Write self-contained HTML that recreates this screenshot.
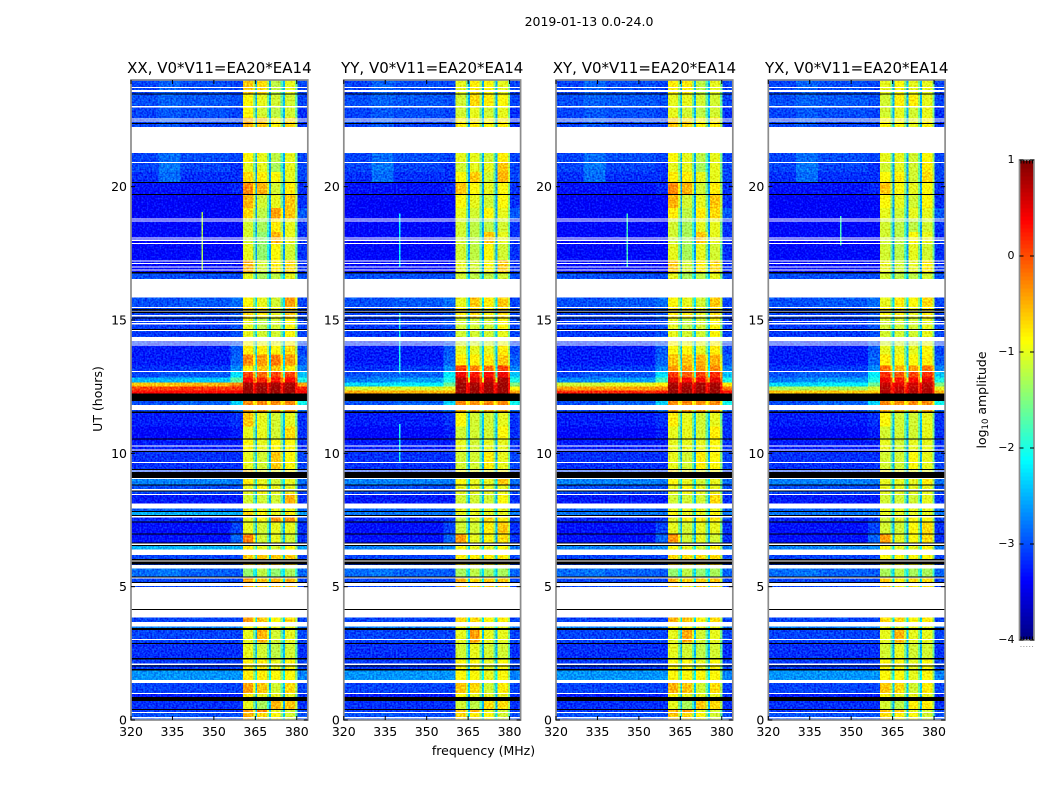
<!DOCTYPE html>
<html lang="en">
<head>
<meta charset="utf-8">
<title>2019-01-13 0.0-24.0</title>
<style>
html,body{margin:0;padding:0;background:#fff;}
svg{display:block;}
text{font-family:"DejaVu Sans","Liberation Sans",sans-serif;fill:#000;}
</style>
</head>
<body>
<svg id="chart" xmlns="http://www.w3.org/2000/svg" width="1050" height="800" viewBox="0 0 1050 800">
  <defs>
    <filter id="grain-0" filterUnits="userSpaceOnUse" x="131" y="80" width="177" height="640" color-interpolation-filters="sRGB">
      <feTurbulence type="fractalNoise" baseFrequency="0.55" numOctaves="1" seed="3" result="n"/>
      <feColorMatrix in="n" type="matrix" values="0.3 0 0 0 0.35  1 0 0 0 0  0.6 0 0 0 0.2  0 0 0 0 1" result="m"/>
      <feComposite in="SourceGraphic" in2="m" operator="arithmetic" k1="0" k2="1" k3="0.8" k4="-0.4" result="a"/>
      <feComposite in="a" in2="SourceAlpha" operator="in"/>
    </filter>
    <filter id="grain-1" filterUnits="userSpaceOnUse" x="343" y="80" width="178" height="640" color-interpolation-filters="sRGB">
      <feTurbulence type="fractalNoise" baseFrequency="0.55" numOctaves="1" seed="11" result="n"/>
      <feColorMatrix in="n" type="matrix" values="0.3 0 0 0 0.35  1 0 0 0 0  0.6 0 0 0 0.2  0 0 0 0 1" result="m"/>
      <feComposite in="SourceGraphic" in2="m" operator="arithmetic" k1="0" k2="1" k3="0.8" k4="-0.4" result="a"/>
      <feComposite in="a" in2="SourceAlpha" operator="in"/>
    </filter>
    <filter id="grain-2" filterUnits="userSpaceOnUse" x="555" y="80" width="179" height="640" color-interpolation-filters="sRGB">
      <feTurbulence type="fractalNoise" baseFrequency="0.55" numOctaves="1" seed="23" result="n"/>
      <feColorMatrix in="n" type="matrix" values="0.3 0 0 0 0.35  1 0 0 0 0  0.6 0 0 0 0.2  0 0 0 0 1" result="m"/>
      <feComposite in="SourceGraphic" in2="m" operator="arithmetic" k1="0" k2="1" k3="0.8" k4="-0.4" result="a"/>
      <feComposite in="a" in2="SourceAlpha" operator="in"/>
    </filter>
    <filter id="grain-3" filterUnits="userSpaceOnUse" x="767" y="80" width="179" height="640" color-interpolation-filters="sRGB">
      <feTurbulence type="fractalNoise" baseFrequency="0.55" numOctaves="1" seed="37" result="n"/>
      <feColorMatrix in="n" type="matrix" values="0.3 0 0 0 0.35  1 0 0 0 0  0.6 0 0 0 0.2  0 0 0 0 1" result="m"/>
      <feComposite in="SourceGraphic" in2="m" operator="arithmetic" k1="0" k2="1" k3="0.8" k4="-0.4" result="a"/>
      <feComposite in="a" in2="SourceAlpha" operator="in"/>
    </filter>
  </defs>
  <rect x="0" y="0" width="1050" height="800" fill="#fff"/>
  <text x="589" y="26" font-size="12.5" text-anchor="middle">2019-01-13 0.0-24.0</text>
  <text x="102" y="399" font-size="12.5" text-anchor="middle" transform="rotate(-90 102 399)">UT (hours)</text>
  <text x="483.500" y="755" font-size="12.5" text-anchor="middle">frequency (MHz)</text>
  <text x="986" y="400" font-size="12.5" text-anchor="middle" transform="rotate(-90 986 400)">log<tspan font-size="8.500" dy="2">10</tspan><tspan dy="-2"> amplitude</tspan></text>
  <g id="panels"></g>
  <g id="colorbar"></g>
</svg>
<script>
// ---- Axis tick values ----
const freqTicks = [320, 335, 350, 365, 380];
const utTicks = [0, 5, 10, 15, 20];
const colorbarTicks = [1, 0, -1, -2, -3, -4];

// ---- Panel titles ----
const panelTitles = ["XX, V0*V11=EA20*EA14", "YY, V0*V11=EA20*EA14", "XY, V0*V11=EA20*EA14", "YX, V0*V11=EA20*EA14"];

// ---- Heatmap bins: frequency edges (MHz) and UT edges (hours) ----
const freqEdges = [320, 330, 338, 356, 360.5, 364.2, 365, 365.7, 369.2, 370, 370.7, 374.2, 375, 375.7, 379.4, 380.2, 384];
const timeEdges = [24, 23.5, 23.03, 22.6, 22.23, 21.27, 20.93, 20.55, 20.18, 19.71, 19.2, 18.8, 18.3, 17.85, 17.25, 16.8, 16.54, 15.85, 15.5, 15.05, 14.63, 14.37, 14.05, 13.7, 13.3, 13.05, 12.85, 12.65, 12.5, 12.35, 12.25, 11.96, 11.81, 11.52, 11, 10.5, 10.05, 9.42, 9.08, 8.84, 8.5, 8.11, 7.84, 7.62, 7.43, 7, 6.63, 6.39, 6.19, 5.82, 5.36, 4.98, 3.84, 3.68, 3.38, 2.9, 2.33, 1.85, 1.5, 1.38, 1.02, 0.72, 0.41, 0.26, 0];

// ---- Log10 amplitude outside the four sub-bands, one row per UT bin:
//      320-330, 330-338, 338-356, 356-360.5, sub-band notches, 380.2-384 MHz ----
const sharedLow = [
[-3.05,-2.9,-3,-3.05,-2.5,-3.05],[-3,-2.9,-2.95,-3,-2.5,-3.05],[-3.05,-2.95,-3,-3.05,-2.5,-3.15],[-3.05,-2.95,-3.05,-3.05,-2.5,-3.15],
[-3.05,-2.9,-3.05,-3.05,-2.5,-3.15],[-3.05,-2.85,-3,-3.05,-2.5,-3.05],[-3.05,-2.8,-3.05,-3.15,-2.6,-3.05],[-3.15,-2.85,-3.15,-3.15,-2.6,-3.05],
[-3.3,-3.3,-3.3,-3.2,-2.6,-3.15],[-3.4,-3.4,-3.4,-3.35,-2.6,-3.15],[-3.4,-3.4,-3.4,-3.35,-2.6,-2.95],[-3.35,-3.35,-3.35,-3.35,-2.6,-3.15],
[-3.35,-3.35,-3.35,-3.35,-2.6,-3.15],[-3.35,-3.35,-3.35,-3.35,-2.6,-3.15],[-3.35,-3.35,-3.35,-3.35,-2.6,-3.15],[-3,-3,-3,-3,-2.4,-3],
[-2.95,-2.95,-2.95,-2.95,-2.4,-2.95],[-3,-3,-2.95,-2.85,-2.3,-3.05],[-3.05,-3.05,-3.05,-2.95,-2.4,-3.05],[-3.1,-3.1,-3.1,-3,-2.4,-3.05],
[-3.1,-3.1,-3.1,-3,-2.4,-3.05],[-3.15,-3.15,-3.15,-3,-2.4,-3.05],[-3.25,-3.25,-3.25,-2.95,-2.4,-3.05],[-3.25,-3.25,-3.25,-2.9,-2.4,-2.95],
[-3.15,-3.15,-3.1,-2.7,-2.2,-2.75],[-3.05,-2.95,-2.95,-2.3,-1.8,-2.45],[-2.95,-2.85,-2.8,-2.05,-1,-2.05],[-2.75,-2.75,-2.65,-1.85,0.4,-1.55],
[-2.75,-2.75,-2.65,-1.85,0.5,-1.05],[-2.75,-2.75,-2.65,-1.85,0.5,-0.85],[-2.75,-2.75,-2.65,-1.85,0.5,-0.85],[-3,-3,-2.9,-2.35,-0.7,-2.05],
[-3.05,-3.05,-3.05,-2.85,-1.5,-2.85],[-3.25,-3.25,-3.25,-3.15,-2.4,-3.15],[-3.35,-3.35,-3.35,-3.25,-2.5,-3.15],[-3.25,-3.25,-3.25,-3.25,-2.5,-3.15],
[-3.15,-3.15,-3.15,-3.15,-2.5,-3.05],[-3.05,-3.05,-3.05,-3.05,-2.4,-3.05],[-2.75,-2.75,-2.75,-2.8,-2.2,-2.85],[-3,-3,-3,-3,-2.4,-3],
[-3.25,-3.25,-3.25,-3.25,-2.5,-3.15],[-2.9,-2.9,-2.9,-2.9,-2.3,-2.9],[-2.75,-2.75,-2.75,-2.75,-2.1,-2.8],[-3.2,-3.2,-3.2,-3.1,-2.5,-3.05],
[-3.3,-3.3,-3.3,-3.05,-2.5,-3.15],[-3.3,-3.3,-3.3,-2.9,-2.5,-3.15],[-2.75,-2.75,-2.75,-2.7,-2.2,-2.8],[-3.05,-3.05,-3.05,-3.05,-2.4,-3.05],
[-3.05,-3.05,-3.05,-3.05,-2.4,-3.05],[-2.85,-2.8,-2.9,-2.95,-2.3,-2.9],[-3.05,-3.05,-3.05,-3.05,-2.3,-3.05],[-3.05,-3.05,-3.05,-3.05,-2.3,-3.05],
[-3.05,-3.05,-3.05,-3.05,-2.3,-3.05],[-2.75,-2.75,-2.75,-2.75,-2.2,-2.8],[-3.05,-3.05,-3.05,-3.05,-2.4,-3.05],[-3.15,-3.15,-3.15,-3.15,-2.5,-3.15],
[-3.1,-3.1,-3.1,-3.1,-2.4,-3.05],[-2.65,-2.65,-2.65,-2.65,-2.1,-2.75],[-2.95,-2.95,-2.95,-2.95,-2.3,-2.95],[-3.05,-3.05,-3.05,-3.05,-2.4,-3.05],
[-3.25,-3.25,-3.25,-3.25,-2.5,-3.15],[-3.15,-3.15,-3.15,-3.15,-2.5,-3.15],[-3.1,-3.1,-3.1,-3.1,-2.4,-3.05],[-3,-2.95,-3,-3,-2.3,-3]
];

// ---- Per-panel replacements of sharedLow where the polarizations differ; key is the row number ----
const xxLowOverride = {26:[-2.5,-2.5,-2.4,-1.7,-0.5,-2],27:[-0.6,-0.6,-0.5,-0.3,0.6,-0.4],28:[0.05,0.05,0.1,0.15,0.7,0.2],29:[0.35,0.35,0.35,0.4,0.7,0.4],42:[-2.5,-2.5,-2.5,-2.5,-2,-2.6],46:[-2.5,-2.5,-2.5,-2.5,-2,-2.6]};
const yyLowOverride = {25:[-3,-2.9,-2.9,-2.2,-1.8,-2.4],26:[-2.8,-2.7,-2.6,-2,-1,-2],27:[-2.3,-2.3,-2.2,-1.6,0.4,-1.5],28:[-1.1,-1.1,-1.1,-1,0.5,-0.9],29:[-0.5,-0.5,-0.5,-0.5,0.5,-0.4],42:[-2.8,-2.8,-2.8,-2.8,-2.2,-2.8]};
const xyLowOverride = {26:[-2.7,-2.7,-2.6,-1.8,-0.5,-2],27:[-1.1,-1.1,-1,-0.8,0.5,-0.8],28:[-0.4,-0.4,-0.4,-0.3,0.6,-0.2],29:[0.2,0.2,0.2,0.25,0.6,0.3],42:[-2.8,-2.8,-2.8,-2.8,-2.2,-2.8]};
const yxLowOverride = {25:[-3,-2.9,-2.9,-2.2,-1.8,-2.4],26:[-2.8,-2.7,-2.6,-2,-1,-2],27:[-2.3,-2.3,-2.2,-1.6,0.3,-1.5],28:[-1.3,-1.3,-1.3,-1.1,0.4,-1],29:[-0.6,-0.6,-0.6,-0.6,0.4,-0.5],42:[-2.8,-2.8,-2.8,-2.8,-2.2,-2.8]};

// ---- Log10 amplitude in the four sub-bands (360.5-365, 365.7-370, 370.7-375, 375.7-380.2 MHz), one row per UT bin ----
const xxBands = [
[-.6,-.7,-1.2,-1],[-.9,-1,-1.1,-1.1],[-.9,-1.1,-1.2,-1.1],[-.5,-.6,-.9,-.7],[-.9,-1,-1.1,-1],[-.9,-1,-1.2,-1],[-1,-1,-1.3,-1],[-.7,-.8,-.9,-1],
[-.3,-.5,-1.1,-.8],[-.5,-1.1,-1,-.6],[-.7,-1.2,-.4,-.6],[-1.1,-1.3,-.8,-1],[-1.1,-1.4,-.5,-1],[-1,-1.4,-.9,-1.1],[-.5,-1.1,-.8,-.7],[-1,-1.3,-1.2,-1],
[-1,-1.3,-1.2,-1],[-.9,-1,-1.1,-.4],[-.7,-.8,-1,-.6],[-1,-1.2,-1.1,-.9],[-1,-1.1,-1.1,-.9],[-.9,-1,-1,-.9],[-.8,-.8,-.9,-.7],[-.3,-.4,-.2,-.4],
[-.8,-.6,-.6,-.8],[.05,-.15,.05,.05],[.4,.2,.3,.4],[.8,.75,.8,.8],[.85,.85,.85,.85],[.85,.85,.85,.85],[.85,.85,.85,.85],[-.3,-.3,-.3,-.3],
[-.4,-.4,-.4,-.4],[-.6,-1,-1.1,-1],[-1,-1,-1.1,-.7],[-.9,-1,-.9,-.9],[-1,-1.1,-.6,-.9],[-.6,-1,-1,-.9],[-.8,-1,-1.1,-1],[-1,-.9,-1,-1],
[-1.1,-1.1,-1.1,-.5],[-1,-1,-1,-1],[-.7,-.9,-1,-.8],[-1,-.9,-.3,-.35],[-1,-1.1,-1,-1],[-.25,-1.1,-1,-1.1],[-.8,-1,-1.1,-.9],[-.8,-1,-1.1,-.9],
[-.6,-.6,-.6,-.6],[-1.4,-1.2,-1.4,-1.3],[-.4,-.6,-.5,-.5],[-.4,-.6,-.5,-.5],[-.4,-.6,-.9,-.7],[-.9,-.9,-1,-1],[-1,-.5,-1.1,-1],[-1,-1.1,-1.2,-1.1],
[-.8,-.8,-1,-.9],[-.8,-.8,-.9,-.9],[-.8,-.8,-.9,-.9],[-.4,-.6,-1.1,-.7],[-.8,-1,-1,-1],[-1,-1.3,-.5,-.6],[-.4,-.3,-1,-1.1],[-.5,-.7,-.9,-1.1]
];
const yyBands = [
[-1,-.8,-.9,-1],[-1.1,-.7,-.8,-.9],[-1.1,-1,-1.1,-1],[-.8,-.8,-.9,-.8],[-1,-1,-1.1,-1],[-1,-1,-1.1,-.8],[-1.1,-1,-1,-.6],[-.9,-.6,-1.1,-.5],
[-.6,-.9,-1,-.9],[-.9,-1,-1.1,-.9],[-1,-1.1,-.9,-1],[-1.1,-1.2,-1.2,-1.1],[-1.1,-1.2,-.6,-1],[-1.1,-1.2,-.9,-1.1],[-1,-1.1,-.9,-.6],[-1.1,-1.2,-1.2,-1.1],
[-1.1,-1.2,-1.2,-1.1],[-1,-.6,-.8,-.6],[-.8,-.7,-.9,-.7],[-1.1,-1.1,-1.1,-.9],[-1.1,-1.1,-1.1,-1],[-1.1,-1.1,-1.1,-1],[-1,-1,-1,-.8],[-.8,-.8,-.8,-.6],
[.05,-.25,-.15,.05],[.45,.25,.35,.45],[.75,.55,.65,.8],[.85,.8,.8,.85],[.85,.85,.85,.85],[.85,.85,.85,.85],[.85,.85,.85,.85],[-.3,-.3,-.3,-.3],
[-.5,-.5,-.5,-.5],[-.9,-1.1,-1.1,-1],[-1.1,-1.1,-1.1,-.9],[-1,-1.1,-1,-1],[-1.1,-1.1,-.8,-1],[-.9,-1,-1,-.9],[-.9,-1,-1,-.6],[-1,-1,-1,-1],
[-1.1,-1.1,-1.1,-.9],[-1,-1,-1,-1],[-1,-1,-1,-1],[-1.1,-1,-.7,-.8],[-1.1,-1.1,-.8,-.6],[-.4,-1,-.9,-.7],[-.9,-1,-1,-.9],[-.9,-1,-1,-.9],
[-.8,-.8,-.8,-.8],[-1.3,-1.2,-1.3,-1.3],[-.5,-.7,-.6,-.6],[-.5,-.7,-.6,-.6],[-.7,-.7,-.9,-.8],[-1,-1,-1,-1],[-1,-.4,-1,-1],[-1.1,-1,-1.1,-1.1],
[-.9,-.9,-1,-.9],[-.9,-.9,-1,-.9],[-.9,-.9,-1,-.9],[-.6,-.7,-1.1,-.8],[-.9,-1,-1,-1],[-1.1,-1.2,-.7,-.7],[-.6,-.5,-1,-1.1],[-.7,-.8,-.9,-1.1]
];
const xyBands = [
[-.8,-.8,-1.2,-1],[-1,-1,-1.1,-1.1],[-1,-1.1,-1.2,-1.1],[-.6,-.7,-.9,-.8],[-1,-1,-1.1,-1],[-.9,-1,-1.2,-1],[-1,-1,-1.3,-1],[-.8,-.8,-1,-1],
[-.3,-.5,-1.1,-.8],[-.5,-1.1,-1,-.6],[-.8,-1.2,-.8,-.7],[-1.1,-1.3,-1,-1],[-1.1,-1.3,-.6,-1],[-1,-1.3,-1,-1.1],[-.6,-1.1,-.8,-.7],[-1,-1.3,-1.2,-1],
[-1,-1.3,-1.2,-1],[-.9,-1,-1.1,-.6],[-.8,-.8,-1,-.7],[-1,-1.2,-1.1,-.9],[-1,-1.1,-1.1,-.9],[-.9,-1,-1,-.9],[-.9,-.9,-1,-.8],[-.6,-.6,-.5,-.5],
[-.4,-.4,-.4,-.3],[.1,-.05,.05,.15],[.5,.35,.4,.5],[.8,.75,.8,.8],[.85,.85,.85,.85],[.85,.85,.85,.85],[.85,.85,.85,.85],[-.3,-.3,-.3,-.3],
[-.4,-.4,-.4,-.4],[-.8,-1,-1.1,-1],[-1,-1,-1.1,-.8],[-1,-1,-1,-.9],[-1,-1.1,-.8,-.9],[-.7,-1,-1,-.9],[-.9,-1,-1.1,-1],[-1,-.9,-1,-1],
[-1.1,-1.1,-1.1,-.7],[-1,-1,-1,-1],[-.9,-1,-1,-.9],[-1,-.9,-.8,-.8],[-1,-1.1,-1,-1],[-.35,-1.1,-1,-1.1],[-.9,-1,-1.1,-.9],[-.9,-1,-1.1,-.9],
[-.7,-.7,-.7,-.7],[-1.4,-1.2,-1.4,-1.3],[-.5,-.7,-.6,-.6],[-.5,-.7,-.6,-.6],[-.5,-.6,-.9,-.7],[-.9,-.9,-1,-1],[-1,-.45,-1.1,-1],[-1,-1.1,-1.2,-1.1],
[-.9,-.9,-1,-.9],[-.9,-.9,-.9,-.9],[-.9,-.9,-.9,-.9],[-.5,-.6,-1.1,-.7],[-.9,-1,-1,-1],[-1,-1.3,-.6,-.7],[-.5,-.4,-1,-1.1],[-.6,-.7,-.9,-1.1]
];
const yxBands = [
[-1,-.9,-1,-1],[-1.1,-.8,-.8,-1],[-1.1,-1,-1.1,-1],[-.9,-.9,-1,-.9],[-1,-1,-1.1,-1],[-1,-1,-1.1,-.9],[-1.1,-1,-1.1,-.8],[-.9,-.8,-1.1,-.7],
[-.6,-.9,-1,-.9],[-.9,-1,-1.1,-.9],[-1,-1.1,-1,-1],[-1.1,-1.2,-1.2,-1.1],[-1.1,-1.2,-.9,-1],[-1.1,-1.2,-1,-1.1],[-1,-1.1,-1,-.8],[-1.1,-1.2,-1.2,-1.1],
[-1.1,-1.2,-1.2,-1.1],[-1,-.8,-.9,-.7],[-.9,-.8,-1,-.8],[-1.1,-1.1,-1.1,-1],[-1.1,-1.1,-1.1,-1],[-1.1,-1.1,-1.1,-1],[-1,-1,-1,-.9],[-.8,-.9,-.9,-.8],
[-.2,-.5,-.4,-.2],[.15,-.05,.05,.15],[.45,.25,.35,.5],[.65,.5,.6,.7],[.75,.65,.7,.75],[.75,.7,.75,.75],[.75,.7,.75,.75],[-.3,-.3,-.3,-.3],
[-.5,-.5,-.5,-.5],[-.9,-1.1,-1.1,-1],[-1.1,-1.1,-1.1,-1],[-1,-1.1,-1,-1],[-1.1,-1.1,-.9,-1],[-.9,-1,-1,-1],[-1,-1,-1,-.8],[-1,-1,-1,-1],
[-1.1,-1.1,-1.1,-1],[-1,-1,-1,-1],[-1,-1,-1,-1],[-1.1,-1,-.9,-.9],[-1.1,-1.1,-.9,-.7],[-.4,-1,-.9,-.7],[-.9,-1,-1,-.9],[-.9,-1,-1,-.9],
[-.9,-.9,-.9,-.9],[-1.3,-1.2,-1.3,-1.3],[-.6,-.8,-.7,-.7],[-.6,-.8,-.7,-.7],[-.7,-.7,-.9,-.8],[-1,-1,-1,-1],[-1,-.5,-1,-1],[-1.1,-1,-1.1,-1.1],
[-.9,-.9,-1,-.9],[-.9,-.9,-1,-.9],[-.9,-.9,-1,-.9],[-.6,-.7,-1.1,-.8],[-.9,-1,-1,-1],[-1.1,-1.2,-.8,-.8],[-.6,-.6,-1,-1.1],[-.7,-.8,-.9,-1.1]
];

// ---- Narrow interference: panel number, MHz, UT start, UT end, log10 amplitude ----
const rfiSpans = [
[0,345.6,19.05,16.9,-1.3],
[1,340,15.3,13.0,-2],[1,340,11.1,9.7,-2],[1,340,19,17,-2.1],
[2,345.6,19,17,-1.8],
[3,346,18.9,17.8,-1.8]
];

// ---- Flagged UT spans [upper, lower] in hours: white has no data, black is zero amplitude ----
const whiteFlags = [[23.74,23.71],[23.63,23.55],[23.03,22.96],[22.56,22.53],[22.49,22.45],[22.23,21.27],[20.93,20.89],[18.81,18.76],[18.74,18.69],[18.09,18.05],[18.01,17.97],[17.89,17.85],[17.24,17.2],[17.14,17.1],[17.01,16.98],[16.89,16.85],[16.54,15.85],[15.49,15.46],[15.34,15.3],[15.19,15.14],[14.97,14.94],[14.89,14.84],[14.63,14.59],[14.37,14.2],[14.16,14.13],[14.09,14.05],[13.09,13.05],[11.81,11.63],[10.3,10.26],[10.15,10.11],[9.68,9.64],[9.36,9.31],[9.08,9.03],[8.66,8.61],[8.48,8.44],[8.11,7.94],[7.65,7.59],[6.63,6.57],[6.39,6.19],[5.99,5.94],[5.82,5.69],[5.36,5.3],[5.15,5.03],[4.98,4.16],[4.13,3.84],[3.68,3.51],[3.04,3.01],[2.11,2.07],[1.5,1.38],[1.02,0.99],[0.3,0.26],[0.12,0.06]];
const blackFlags = [[23.49,23.45],[22.38,22.35],[20.18,20.13],[19.73,19.69],[16.8,16.74],[15.41,15.38],[15.36,15.34],[15.3,15.26],[15.09,15.05],[14.66,14.63],[12.25,11.96],[11.56,11.52],[10.55,10.51],[10.09,10.05],[9.42,9.39],[9.3,9.08],[8.84,8.8],[8.6,8.56],[7.84,7.8],[7.69,7.65],[7.45,7.43],[7,6.98],[6.65,6.63],[6.57,6.55],[6.03,5.99],[5.94,5.84],[5.39,5.36],[5.18,5.15],[4.16,4.13],[3.45,3.38],[2.88,2.85],[2.33,2.26],[2.05,2],[1.92,1.85],[0.86,0.72],[0.41,0.38]];

// ---- Layout ----
const panelLeft = [131, 343.8, 556, 768.3];
const panelWidth = 176.8;
const plotTop = 80;
const plotBottom = 720;
const freqMin = 320, freqMax = 384, utMin = 0, utMax = 24;
const cbarLeft = 1019.5, cbarWidth = 14.5, cbarTop = 160, cbarBottom = 640;
const ampMin = -4, ampMax = 1;
const colorbarSteps = 120;
const shoulderDrop = 0.55;
const minorTickCount = 5;

const SVG_NS = "http://www.w3.org/2000/svg";
function shape(tag, attrs, parent) {
  const el = document.createElementNS(SVG_NS, tag);
  for (const k in attrs) el.setAttribute(k, attrs[k]);
  parent.appendChild(el);
  return el;
}
function clip01(v) { return Math.max(0, Math.min(1, v)); }
function jet(v) {
  const t = clip01((v - ampMin) / (ampMax - ampMin));
  const r = clip01(1.5 - Math.abs(4 * t - 3));
  const g = clip01(1.5 - Math.abs(4 * t - 2));
  const b = clip01(1.5 - Math.abs(4 * t - 1));
  return "rgb(" + Math.round(r * 255) + "," + Math.round(g * 255) + "," + Math.round(b * 255) + ")";
}
function freqToX(f, i) { return panelLeft[i] + (f - freqMin) / (freqMax - freqMin) * panelWidth; }
function utToY(u) { return plotBottom - (u - utMin) / (utMax - utMin) * (plotBottom - plotTop); }
function ampToY(a) { return cbarBottom - (a - ampMin) / (ampMax - ampMin) * (cbarBottom - cbarTop); }
function minusText(v) { return v < 0 ? "\u2212" + Math.abs(v) : String(v); }
function cellValues(low, b) {
  const d = shoulderDrop;
  return [low[0], low[1], low[2], low[3],
    b[0], b[0] - d, low[4],
    b[1], b[1] - d, low[4],
    b[2], b[2] - d, low[4],
    b[3], b[3] - d, low[5]];
}

const bandTables = [xxBands, yyBands, xyBands, yxBands];
const lowOverrides = [xxLowOverride, yyLowOverride, xyLowOverride, yxLowOverride];
const panelsRoot = document.getElementById("panels");

panelTitles.forEach(function (title, p) {
  const left = panelLeft[p], right = left + panelWidth;
  const g = shape("g", {}, panelsRoot);
  
  

  const heat = shape("g", { "shape-rendering": "crispEdges", filter: "url(#grain-" + p + ")" }, g);
  
  

  for (let r = 0; r < timeEdges.length - 1; r++) {
    const low = lowOverrides[p][r] || sharedLow[r];
    const vals = cellValues(low, bandTables[p][r]);
    for (let c = 0; c < freqEdges.length - 1; c++) {
      const cell = shape("rect", {
        x: freqToX(freqEdges[c], p),
        y: utToY(timeEdges[r]),
        width: freqToX(freqEdges[c + 1], p) - freqToX(freqEdges[c], p),
        height: utToY(timeEdges[r + 1]) - utToY(timeEdges[r]),
        fill: jet(vals[c])
      }, heat);
      
      
    }
  }

  rfiSpans.filter(function (s) { return s[0] === p; }).forEach(function (s) {
    const line = shape("rect", {
      x: freqToX(s[1], p), y: utToY(s[2]), width: 1.2,
      height: utToY(s[3]) - utToY(s[2]), fill: jet(s[4])
    }, heat);
    
    
  });

  const flags = shape("g", { "shape-rendering": "crispEdges" }, g);
  
  

  whiteFlags.forEach(function (s) {
    const band = shape("rect", {
      x: left, y: utToY(s[0]), width: panelWidth,
      height: Math.max(1, utToY(s[1]) - utToY(s[0])), fill: "#fff"
    }, flags);
    
    
  });
  blackFlags.forEach(function (s) {
    const band = shape("rect", {
      x: left, y: utToY(s[0]), width: panelWidth,
      height: Math.max(1, utToY(s[1]) - utToY(s[0])), fill: "#000"
    }, flags);
    
    
  });

  const frame = shape("rect", {
    x: left, y: plotTop, width: panelWidth, height: plotBottom - plotTop,
    fill: "none", stroke: "#8c8c8c", "stroke-width": 1.7
  }, g);
  
  

  const heading = shape("text", {
    x: left + panelWidth / 2, y: 73, "font-size": 15, "text-anchor": "middle"
  }, g);
  heading.textContent = title;
  
  

  freqTicks.forEach(function (f) {
    const x = freqToX(f, p);
    const tb = shape("line", { x1: x, x2: x, y1: plotBottom, y2: plotBottom - 4, stroke: "#000", "stroke-width": 1 }, g);
    
    
    const tt = shape("line", { x1: x, x2: x, y1: plotTop, y2: plotTop + 4, stroke: "#000", "stroke-width": 1 }, g);
    
    
    const lab = shape("text", { x: x, y: 736, "font-size": 12.5, "text-anchor": "middle" }, g);
    lab.textContent = String(f);
    
    
  });

  utTicks.forEach(function (u) {
    const y = utToY(u);
    const tl = shape("line", { x1: left, x2: left + 4, y1: y, y2: y, stroke: "#000", "stroke-width": 1 }, g);
    
    
    const tr = shape("line", { x1: right, x2: right - 4, y1: y, y2: y, stroke: "#000", "stroke-width": 1 }, g);
    
    
    const lab = shape("text", { x: left - 4, y: y + 4.5, "font-size": 12.5, "text-anchor": "end" }, g);
    lab.textContent = String(u);
    
    
  });
});

// ---- Colorbar ----
const cbarRoot = document.getElementById("colorbar");
const ramp = shape("g", { "shape-rendering": "crispEdges" }, cbarRoot);


for (let i = 0; i < colorbarSteps; i++) {
  const a0 = ampMin + (ampMax - ampMin) * i / colorbarSteps;
  const a1 = ampMin + (ampMax - ampMin) * (i + 1) / colorbarSteps;
  const seg = shape("rect", {
    x: cbarLeft, y: ampToY(a1), width: cbarWidth,
    height: ampToY(a0) - ampToY(a1) + 0.5, fill: jet((a0 + a1) / 2)
  }, ramp);
  
  
}
const cbarFrame = shape("rect", {
  x: cbarLeft, y: cbarTop, width: cbarWidth, height: cbarBottom - cbarTop,
  fill: "none", stroke: "#8c8c8c", "stroke-width": 1.7
}, cbarRoot);


colorbarTicks.forEach(function (a) {
  const y = ampToY(a);
  const tickL = shape("line", { x1: cbarLeft, x2: cbarLeft + 4, y1: y, y2: y, stroke: "#000", "stroke-width": 1 }, cbarRoot);
  
  
  const tickR = shape("line", { x1: cbarLeft + cbarWidth, x2: cbarLeft + cbarWidth - 4, y1: y, y2: y, stroke: "#000", "stroke-width": 1 }, cbarRoot);
  
  
  const lab = shape("text", { x: cbarLeft - 5, y: y + 3, "font-size": 11, "text-anchor": "end" }, cbarRoot);
  lab.textContent = minusText(a);
  
  
});
for (let m = 0; m < minorTickCount; m++) {
  const mx = cbarLeft + (m + 0.5) * cbarWidth / minorTickCount;
  const mt = shape("line", { x1: mx, x2: mx, y1: cbarTop, y2: cbarTop + 3.5, stroke: "#000", "stroke-width": 1 }, cbarRoot);
  
  
  const mb = shape("line", { x1: mx, x2: mx, y1: cbarBottom, y2: cbarBottom - 3.5, stroke: "#000", "stroke-width": 1 }, cbarRoot);
  
  
  const dot = shape("rect", { x: mx - 0.5, y: 646, width: 1, height: 1, fill: "#999" }, cbarRoot);
  
  
}
</script>
</body>
</html>
